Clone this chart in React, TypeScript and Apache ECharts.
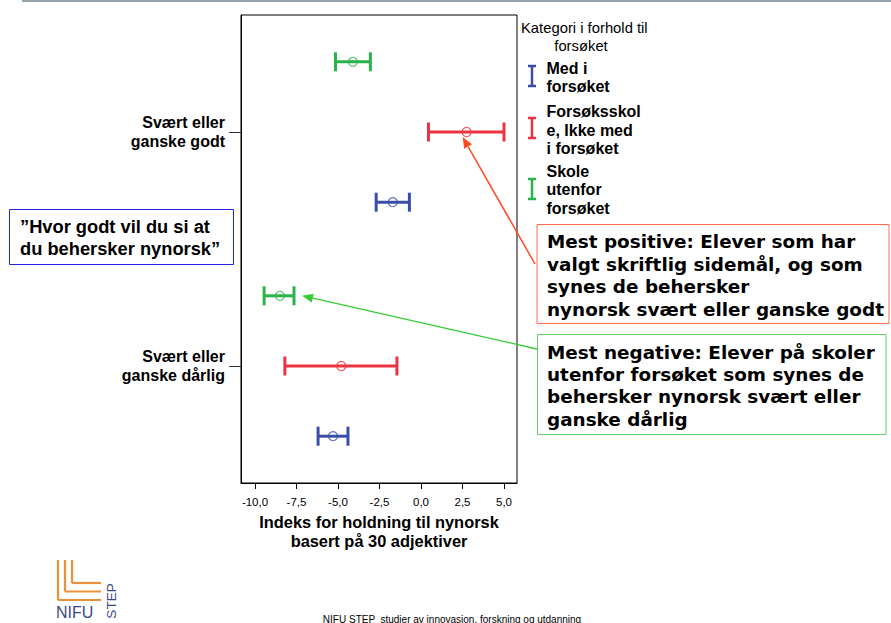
import React, { useEffect, useRef } from 'react';
import * as echarts from 'echarts';

// ---- data ----
const categories = ['Svært eller\nganske godt', 'Svært eller\nganske dårlig'];
const seriesNames = ['Med i forsøket', 'Forsøksskole, Ikke med i forsøket', 'Skole utenfor forsøket'];
const legendLabels = ['Med i\nforsøket', 'Forsøksskol\ne, Ikke med\ni forsøket', 'Skole\nutenfor\nforsøket'];
const legendTitle = 'Kategori i forhold til';
const legendTitle2 = 'forsøket';

// per series, one value per category [godt, dårlig]
const meanMed = [-1.7, -5.3];
const lowMed = [-2.7, -6.2];
const highMed = [-0.7, -4.4];

const meanForsok = [2.75, -4.8];
const lowForsok = [0.45, -8.2];
const highForsok = [5.0, -1.45];

const meanUtenfor = [-4.1, -8.5];
const lowUtenfor = [-5.15, -9.45];
const highUtenfor = [-3.05, -7.65];

const xTicks = [-10, -7.5, -5, -2.5, 0, 2.5, 5];
const xAxisTitle = 'Indeks for holdning til nynorsk\nbasert på 30 adjektiver';
const questionText = '”Hvor godt vil du si at\ndu behersker nynorsk”';
const positiveText = 'Mest positive: Elever som har\nvalgt skriftlig sidemål, og som\nsynes de behersker\nnynorsk svært eller ganske godt';
const negativeText = 'Mest negative: Elever på skoler\nutenfor forsøket som synes de\nbehersker nynorsk svært eller\nganske dårlig';
const footerText = 'NIFU STEP  studier av innovasjon, forskning og utdanning';

// ---- styling ----
const colors = ['#3a4ea6', '#ee3340', '#2bb34b'];
const rowOffsets = [0.3, 0, -0.3];
const FONT = '"Liberation Sans", Arial, sans-serif';
const VFONT = '"DejaVu Sans", Verdana, sans-serif';

const means = [meanMed, meanForsok, meanUtenfor];
const lows = [lowMed, lowForsok, lowUtenfor];
const highs = [highMed, highForsok, highUtenfor];

function arrow(from: number[], to: number[], color: string, width: number) {
  const dx = to[0] - from[0];
  const dy = to[1] - from[1];
  const len = Math.sqrt(dx * dx + dy * dy);
  const ux = dx / len;
  const uy = dy / len;
  const hl = 11;
  const hw = 4.5;
  const bx = to[0] - ux * hl;
  const by = to[1] - uy * hl;
  return [
    {
      type: 'line',
      shape: { x1: from[0], y1: from[1], x2: bx, y2: by },
      style: { stroke: color, lineWidth: width },
      z: 20,
    },
    {
      type: 'polygon',
      shape: {
        points: [
          [to[0], to[1]],
          [bx - uy * hw, by + ux * hw],
          [bx + uy * hw, by - ux * hw],
        ],
      },
      style: { fill: color },
      z: 20,
    },
  ];
}

export default function App() {
  const ref = useRef<HTMLDivElement>(null);

  useEffect(() => {
    document.body.style.margin = '0';
    const chart = echarts.init(ref.current!, null, { renderer: 'svg' });

    const series: any[] = [];
    seriesNames.forEach((name, s) => {
      const color = colors[s];
      series.push({
        name,
        type: 'custom',
        encode: { x: [1, 2], y: 0 },
        data: categories.map((_, c) => [c + 1 + rowOffsets[s], lows[s][c], highs[s][c]]),
        renderItem: (params: any, api: any) => {
          const y = api.value(0);
          const p1 = api.coord([api.value(1), y]);
          const p2 = api.coord([api.value(2), y]);
          const cap = 9.5;
          const style = { stroke: color, lineWidth: 3 };
          return {
            type: 'group',
            children: [
              { type: 'line', shape: { x1: p1[0], y1: p1[1], x2: p2[0], y2: p2[1] }, style },
              { type: 'line', shape: { x1: p1[0], y1: p1[1] - cap, x2: p1[0], y2: p1[1] + cap }, style },
              { type: 'line', shape: { x1: p2[0], y1: p2[1] - cap, x2: p2[0], y2: p2[1] + cap }, style },
            ],
          };
        },
        z: 2,
      });
      series.push({
        name,
        type: 'scatter',
        symbol: 'circle',
        symbolSize: 9,
        itemStyle: { color: 'rgba(0,0,0,0)', borderColor: color, borderWidth: 1.2 },
        data: categories.map((_, c) => [means[s][c], c + 1 + rowOffsets[s]]),
        z: 3,
      });
    });

    const option: any = {
      animation: false,
      textStyle: { fontFamily: FONT },
      grid: {
        left: 241,
        top: 15,
        width: 276,
        height: 468,
        show: true,
        borderColor: '#000',
        borderWidth: 1,
        backgroundColor: 'transparent',
      },
      xAxis: {
        type: 'value',
        min: -10.843,
        max: 5.783,
        axisLine: { show: true, onZero: false, lineStyle: { color: '#000', width: 1 } },
        axisTick: { show: true, customValues: xTicks, length: 6, lineStyle: { color: '#000' } },
        axisLabel: {
          customValues: xTicks,
          formatter: (v: number) => v.toFixed(1).replace('.', ','),
          color: '#000',
          fontSize: 11.5,
          margin: 13,
          fontFamily: FONT,
        },
        splitLine: { show: false },
        name: xAxisTitle,
        nameLocation: 'middle',
        nameGap: 29,
        nameTextStyle: {
          color: '#000',
          fontWeight: 'bold',
          fontSize: 16.4,
          lineHeight: 18.5,
          fontFamily: FONT,
        },
      },
      yAxis: {
        type: 'value',
        inverse: true,
        min: 0.5,
        max: 2.5,
        axisLine: { show: true, onZero: false, lineStyle: { color: '#000', width: 1 } },
        axisTick: { show: true, customValues: [1, 2], length: 12, lineStyle: { color: '#333' } },
        axisLabel: {
          customValues: [1, 2],
          formatter: (v: number) => categories[Math.round(v) - 1],
          color: '#000',
          fontWeight: 'bold',
          fontSize: 16,
          lineHeight: 19,
          margin: 16,
          align: 'right',
          fontFamily: FONT,
        },
        splitLine: { show: false },
      },
      series,
    };

    chart.setOption(option);

    // annotation geometry derived from data through the chart's scales
    const redPt = chart.convertToPixel({ gridIndex: 0 }, [meanForsok[0], 1 + rowOffsets[1]]) as number[];
    const greenCap = chart.convertToPixel({ gridIndex: 0 }, [highUtenfor[1], 2 + rowOffsets[2]]) as number[];

    const legendIcons: any[] = [];
    const iconRanges = [[65, 87], [117, 139], [178, 200]];
    const legendTextTops = [58.8, 102.5, 161.8];
    colors.forEach((color, i) => {
      const [y1, y2] = iconRanges[i];
      const st = { stroke: color, lineWidth: 2.5 };
      legendIcons.push(
        { type: 'line', shape: { x1: 532, y1, x2: 532, y2 }, style: st },
        { type: 'line', shape: { x1: 528, y1: y1 + 1, x2: 536, y2: y1 + 1 }, style: st },
        { type: 'line', shape: { x1: 528, y1: y2 - 1, x2: 536, y2: y2 - 1 }, style: st },
        {
          type: 'text',
          x: 546.5,
          y: legendTextTops[i],
          style: {
            text: legendLabels[i],
            fill: '#000',
            fontFamily: FONT,
            fontWeight: 'bold',
            fontSize: 16,
            lineHeight: 18.5,
            align: 'left',
            verticalAlign: 'top',
          },
        }
      );
    });

    const graphic: any[] = [
      // top rule
      { type: 'rect', shape: { x: 22, y: 0, width: 869, height: 2 }, style: { fill: '#98a2ae' } },
      // legend title
      {
        type: 'text',
        x: 521,
        y: 27.7,
        style: { text: legendTitle, fill: '#000', fontFamily: FONT, fontSize: 14.8, align: 'left', verticalAlign: 'middle' },
      },
      {
        type: 'text',
        x: 581,
        y: 45.7,
        style: { text: legendTitle2, fill: '#000', fontFamily: FONT, fontSize: 14.8, align: 'center', verticalAlign: 'middle' },
      },
      ...legendIcons,
      // question box
      {
        type: 'rect',
        shape: { x: 9.5, y: 209.5, width: 224, height: 55 },
        style: { fill: '#fff', stroke: '#2424dd', lineWidth: 1 },
      },
      {
        type: 'text',
        x: 20,
        y: 215.5,
        style: {
          text: questionText,
          fill: '#000',
          fontFamily: FONT,
          fontWeight: 'bold',
          fontSize: 18.3,
          lineHeight: 22.3,
          align: 'left',
          verticalAlign: 'top',
        },
      },
      // positive box
      {
        type: 'rect',
        shape: { x: 537, y: 224.5, width: 352, height: 99 },
        style: { fill: '#fff', stroke: '#ff6a4a', lineWidth: 1 },
        z: 10,
      },
      {
        type: 'text',
        x: 547,
        y: 230.5,
        z: 11,
        style: {
          text: positiveText,
          fill: '#000',
          fontFamily: VFONT,
          fontWeight: 'bold',
          fontSize: 18.4,
          lineHeight: 22.5,
          align: 'left',
          verticalAlign: 'top',
        },
      },
      // negative box
      {
        type: 'rect',
        shape: { x: 537.5, y: 334.5, width: 348.5, height: 100 },
        style: { fill: '#fff', stroke: '#66cc66', lineWidth: 1 },
        z: 10,
      },
      {
        type: 'text',
        x: 547,
        y: 341.2,
        z: 11,
        style: {
          text: negativeText,
          fill: '#000',
          fontFamily: VFONT,
          fontWeight: 'bold',
          fontSize: 18.4,
          lineHeight: 22.3,
          align: 'left',
          verticalAlign: 'top',
        },
      },
      // arrows
      ...arrow([535, 264], [redPt[0] - 4, redPt[1] + 5], '#ff4a22', 1.5),
      ...arrow([537, 349], [greenCap[0] + 8, greenCap[1]], '#33cc33', 1.3),
      // logo
      ...[
        [58, 600],
        [65, 591.5],
        [72, 583],
      ].flatMap(([x, yb]) => [
        { type: 'line', shape: { x1: x, y1: 560, x2: x, y2: yb }, style: { stroke: '#e8913a', lineWidth: 2.2 } },
        { type: 'line', shape: { x1: x, y1: yb, x2: 101, y2: yb }, style: { stroke: '#e8913a', lineWidth: 2.2 } },
      ]),
      {
        type: 'text',
        x: 56,
        y: 612,
        style: { text: 'NIFU', fill: '#3a4a80', fontFamily: FONT, fontSize: 16, align: 'left', verticalAlign: 'middle' },
      },
      {
        type: 'text',
        x: 111.5,
        y: 601,
        rotation: Math.PI / 2,
        style: { text: 'STEP', fill: '#3a4a80', fontFamily: FONT, fontSize: 13.5, align: 'center', verticalAlign: 'middle' },
      },
      // footer
      {
        type: 'text',
        x: 452,
        y: 619,
        style: { text: footerText, fill: '#000', fontFamily: FONT, fontSize: 10, align: 'center', verticalAlign: 'middle' },
      },
    ];

    chart.setOption({ graphic });

    return () => chart.dispose();
  }, []);

  return (
    <div
      ref={ref}
      style={{ position: 'absolute', left: 0, top: 0, width: 891, height: 623, background: '#fff' }}
    />
  );
}
